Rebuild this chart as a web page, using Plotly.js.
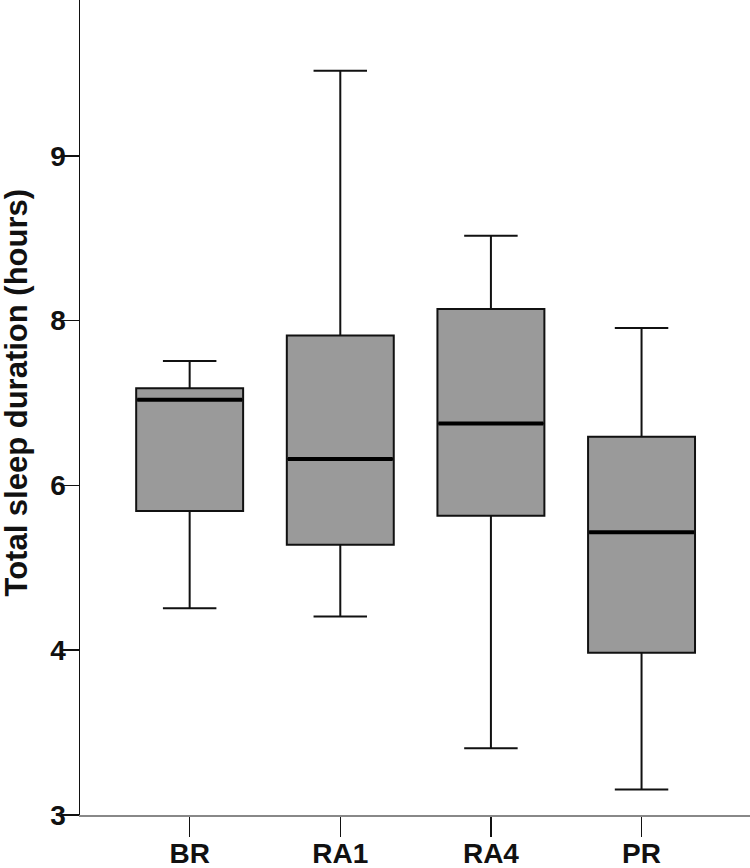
<!DOCTYPE html>
<html>
<head>
<meta charset="utf-8">
<script src="https://cdn.plot.ly/plotly-3.0.1.min.js"></script>
<style>html,body{margin:0;padding:0;background:#fff;}#chart{width:750px;height:868px;}</style>
</head>
<body>
<div id="chart"></div>
<script>
const categories = ['BR', 'RA1', 'RA4', 'PR'];
const lowerWhisker = [4.51, 4.41, 2.81, 2.31];
const q1 = [5.69, 5.28, 5.63, 3.97];
const median = [7.04, 6.32, 6.75, 5.43];
const q3 = [7.18, 7.82, 8.14, 6.59];
const upperWhisker = [7.51, 11.03, 9.03, 7.91];
const yTickVals = [2, 4, 6, 8, 10];
const yTickText = ['3', '4', '6', '8', '9'];
const yTitle = 'Total sleep duration (hours)';

const boxWidth = 0.71;
const halfBox = boxWidth / 2;

const trace = {
  type: 'box',
  x: categories,
  q1: q1,
  median: median,
  q3: q3,
  lowerfence: lowerWhisker,
  upperfence: upperWhisker,
  width: boxWidth,
  fillcolor: '#9a9a9a',
  line: {color: '#111111', width: 2},
  whiskerwidth: 0.5,
  boxpoints: false,
  hoverinfo: 'skip'
};

const medianShapes = median.map((m, i) => ({
  type: 'line', xref: 'x', yref: 'y',
  x0: i - halfBox + 0.007, x1: i + halfBox - 0.007, y0: m, y1: m,
  line: {color: '#000000', width: 4}
}));

const layout = {
  width: 750, height: 868,
  margin: {l: 80, r: 0, t: 0, b: 53},
  paper_bgcolor: '#ffffff', plot_bgcolor: '#ffffff',
  showlegend: false,
  hovermode: false,
  font: {family: '"Liberation Sans", Arial, sans-serif', color: '#111111'},
  xaxis: {
    type: 'category',
    range: [-0.728, 3.72],
    showline: true, linecolor: '#888888', linewidth: 1.5,
    ticks: 'outside', ticklen: 20, tickwidth: 1.5, tickcolor: '#111111',
    ticklabelstandoff: -7,
    tickfont: {size: 28, family: '"Liberation Sans", Arial, sans-serif', weight: 'bold', color: '#111111'},
    showgrid: false, zeroline: false, fixedrange: true
  },
  yaxis: {
    range: [2, 11.89],
    tickmode: 'array', tickvals: yTickVals, ticktext: yTickText,
    showline: true, linecolor: '#111111', linewidth: 1.5,
    ticks: 'outside', ticklen: 18, tickwidth: 1.5, tickcolor: '#111111',
    ticklabelstandoff: -11,
    tickfont: {size: 28, family: '"Liberation Sans", Arial, sans-serif', weight: 'bold', color: '#111111'},
    showgrid: false, zeroline: false, fixedrange: true
  },
  annotations: [{
    text: yTitle, textangle: -90,
    xref: 'paper', yref: 'paper', x: 0, y: 0.5,
    xanchor: 'center', yanchor: 'middle',
    xshift: -64, yshift: 15, showarrow: false,
    font: {size: 31, family: '"Liberation Sans", Arial, sans-serif', weight: 'bold', color: '#111111'}
  }],
  shapes: medianShapes
};

Plotly.newPlot('chart', [trace], layout, {displayModeBar: false, staticPlot: true});
</script>
</body>
</html>
